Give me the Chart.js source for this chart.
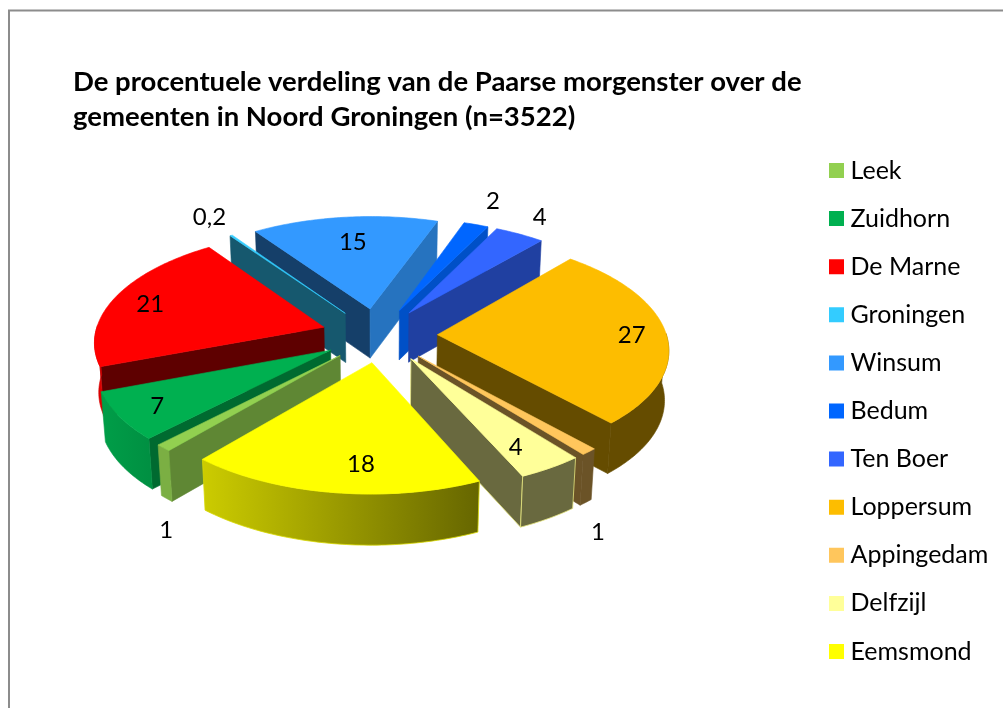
<!DOCTYPE html>
<html><head><meta charset="utf-8">
<style>html,body{margin:0;padding:0;background:#fff}canvas{display:block}</style>
<script src="https://cdn.jsdelivr.net/npm/chart.js@4"></script>
</head><body><canvas id="c" width="1003" height="708"></canvas>
<script>
const titleLines = ["De procentuele verdeling van de Paarse morgenster over de","gemeenten in Noord Groningen (n=3522)"];
const categories = ["Leek","Zuidhorn","De Marne","Groningen","Winsum","Bedum","Ten Boer","Loppersum","Appingedam","Delfzijl","Eemsmond"];
const percentages = [1,7,21,0.2,15,2,4,27,1,4,18];
const valueLabels = ["1","7","21","0,2","15","2","4","27","1","4","18"];
const colors = ["#92D050","#00B050","#FF0000","#33CCFF","#3399FF","#0066FF","#3366FF","#FDBD00","#FFC65C","#FFFF99","#FFFF00"];
// brightness of the cut faces and the rim, per slice
const startFaceShade = [.65,.6,.37,.43,.41,.7,.6,.5,.5,.5,.5];
const endFaceShade   = [.6,.6,.6,.6,.75,.78,.63,.4,.42,.41,.4];
const rimShadeStart  = [.84,.82,.85,.6,.6,.6,.6,.4,.42,.41,.4];
const rimShadeEnd    = [.84,.9,.85,.6,.6,.6,.6,.4,.42,.41,.8];
const edgeColors     = [null,null,null,null,null,null,null,null,null,"#e6e67e","#d8d800"];
// data-label placement: radial fraction, angular shift (deg), dropped to the base of the slice
const labelRadius = [1.15,.83,.83,1.27,.73,1.32,1.245,.85,1.17,.8,.78];
const labelShift  = [-8.6,0,0,1.5,.75,-1.1,-1.1,0,6,1.5,-5.3];
const labelDrop   = [1,0,0,0,0,0,0,0,1,0,0];

const EXPLODE = 57, PERSP = 0.000512, TILT = 0.4756, DEPTH = 49.5, BASE_SHRINK = 0.985;

function shade(hex,f){
  const n=parseInt(hex.slice(1),16);
  return `rgb(${Math.round((n>>16&255)*f)},${Math.round((n>>8&255)*f)},${Math.round((n&255)*f)})`;
}
function project(cx,cy,u,v,base){
  const s=1/(1-PERSP*v);
  const d=DEPTH*(1+.2*(s-1));
  const k=base?BASE_SHRINK:1;
  return [cx+u*s*k, cy+TILT*v*s+(base?d:0)];
}
function explodeOffset(mid){
  const c=Math.cos(mid), sn=Math.sin(mid);
  return [EXPLODE*c*(c<0?1.03:1)-3*Math.max(0,-sn), EXPLODE*sn];
}
function path(ctx,pts){ctx.beginPath();pts.forEach((p,i)=>i?ctx.lineTo(p[0],p[1]):ctx.moveTo(p[0],p[1]));ctx.closePath();}
function paint(ctx,pts,fill,edge){
  path(ctx,pts);ctx.fillStyle=fill;ctx.fill();
  ctx.lineWidth=edge?.8:.6;ctx.strokeStyle=edge||fill;ctx.lineJoin='round';ctx.stroke();
}

const pie3d = {
  id:'pie3d',
  afterLayout(chart){
    chart.chartArea={left:150.5,right:610.5,top:105,bottom:565,width:460,height:460};
    const l=chart.legend;
    const w=l.right-l.left;
    l.left=811.9;l.right=l.left+w;l.top=134.9;l.bottom=708;
  },
  beforeDraw(chart){
    const c=chart.ctx;
    c.save();c.fillStyle='#fff';c.fillRect(0,0,1003,708);
    c.strokeStyle='#8c8c8c';c.lineWidth=2;
    c.beginPath();c.moveTo(9,708);c.lineTo(9,10.5);c.lineTo(1003,10.5);c.stroke();
    c.restore();
  },
  beforeDatasetDraw(chart,args){
    const ctx=chart.ctx, arcs=args.meta.data;
    const order=arcs.map((a,i)=>{
      const p=a.getProps(['startAngle','endAngle']);
      return {i,mid:(p.startAngle+p.endAngle)/2};
    }).sort((x,y)=>Math.sin(x.mid)-Math.sin(y.mid));
    ctx.save();
    order.forEach(({i,mid})=>{
      const p=arcs[i].getProps(['x','y','startAngle','endAngle','outerRadius']);
      const R=p.outerRadius, [ou,ov]=explodeOffset(mid);
      const pt=(a,r,base)=>project(p.x,p.y,ou+r*Math.cos(a),ov+r*Math.sin(a),base);
      const col=colors[i], edge=edgeColors[i];
      const face=(a,f)=>paint(ctx,[pt(a,0,false),pt(a,R,false),pt(a,R,true),pt(a,0,true)],shade(col,f),edge);
      if(Math.cos(p.startAngle)<0) face(p.startAngle,startFaceShade[i]);
      if(Math.cos(p.endAngle)>0) face(p.endAngle,endFaceShade[i]);
      // rim
      const n=Math.max(4,Math.ceil((p.endAngle-p.startAngle)*60));
      const vis=[];
      for(let k=0;k<=n;k++){const a=p.startAngle+(p.endAngle-p.startAngle)*k/n; if(Math.sin(a)>-0.02) vis.push(a);}
      if(vis.length>1){
        const top=vis.map(a=>pt(a,R,false)), bot=vis.map(a=>pt(a,R,true)).reverse();
        const g=ctx.createLinearGradient(top[0][0],0,top[top.length-1][0]+.01,0);
        g.addColorStop(0,shade(col,rimShadeStart[i]));
        g.addColorStop(1,shade(col,rimShadeEnd[i]));
        paint(ctx,top.concat(bot),g,edge);
      }
      // top surface
      const surf=[pt(0,0,false)];
      for(let k=0;k<=n;k++) surf.push(pt(p.startAngle+(p.endAngle-p.startAngle)*k/n,R,false));
      paint(ctx,surf,col);
    });
    ctx.restore();
    return false;
  },
  afterDatasetsDraw(chart){
    const ctx=chart.ctx, arcs=chart.getDatasetMeta(0).data;
    ctx.save();
    ctx.font='24px Lato';ctx.fillStyle='#000';ctx.textAlign='center';ctx.textBaseline='middle';
    arcs.forEach((arc,i)=>{
      const p=arc.getProps(['x','y','startAngle','endAngle','outerRadius']);
      const mid=(p.startAngle+p.endAngle)/2;
      const a=mid+labelShift[i]*Math.PI/180;
      const r=p.outerRadius*labelRadius[i];
      const [ou,ov]=explodeOffset(mid);
      const q=project(p.x,p.y,ou+r*Math.cos(a),ov+r*Math.sin(a),false);
      ctx.fillText(valueLabels[i],q[0],q[1]+2+(labelDrop[i]?DEPTH:0));
    });
    ctx.restore();
  }
};

new Chart(document.getElementById('c'),{
  type:'pie',
  data:{labels:categories,datasets:[{data:percentages,backgroundColor:colors}]},
  plugins:[pie3d],
  options:{
    responsive:false,animation:false,events:[],
    rotation:220.5,
    layout:{padding:{left:73,top:64.5,right:0,bottom:0}},
    plugins:{
      tooltip:{enabled:false},
      title:{display:true,text:titleLines,align:'start',color:'#000',
        font:{family:'Lato',size:27.5,weight:'bold',lineHeight:1.273},padding:0},
      legend:{position:'right',align:'start',
        labels:{boxWidth:3,boxHeight:3,padding:23.1,color:'#000',font:{family:'Lato',size:25},
          generateLabels:(ch)=>categories.map((t,i)=>({text:t,fillStyle:colors[i],strokeStyle:colors[i],lineWidth:12,fontColor:'#000',index:i,hidden:false}))}}
    }
  }
});
</script></body></html>
